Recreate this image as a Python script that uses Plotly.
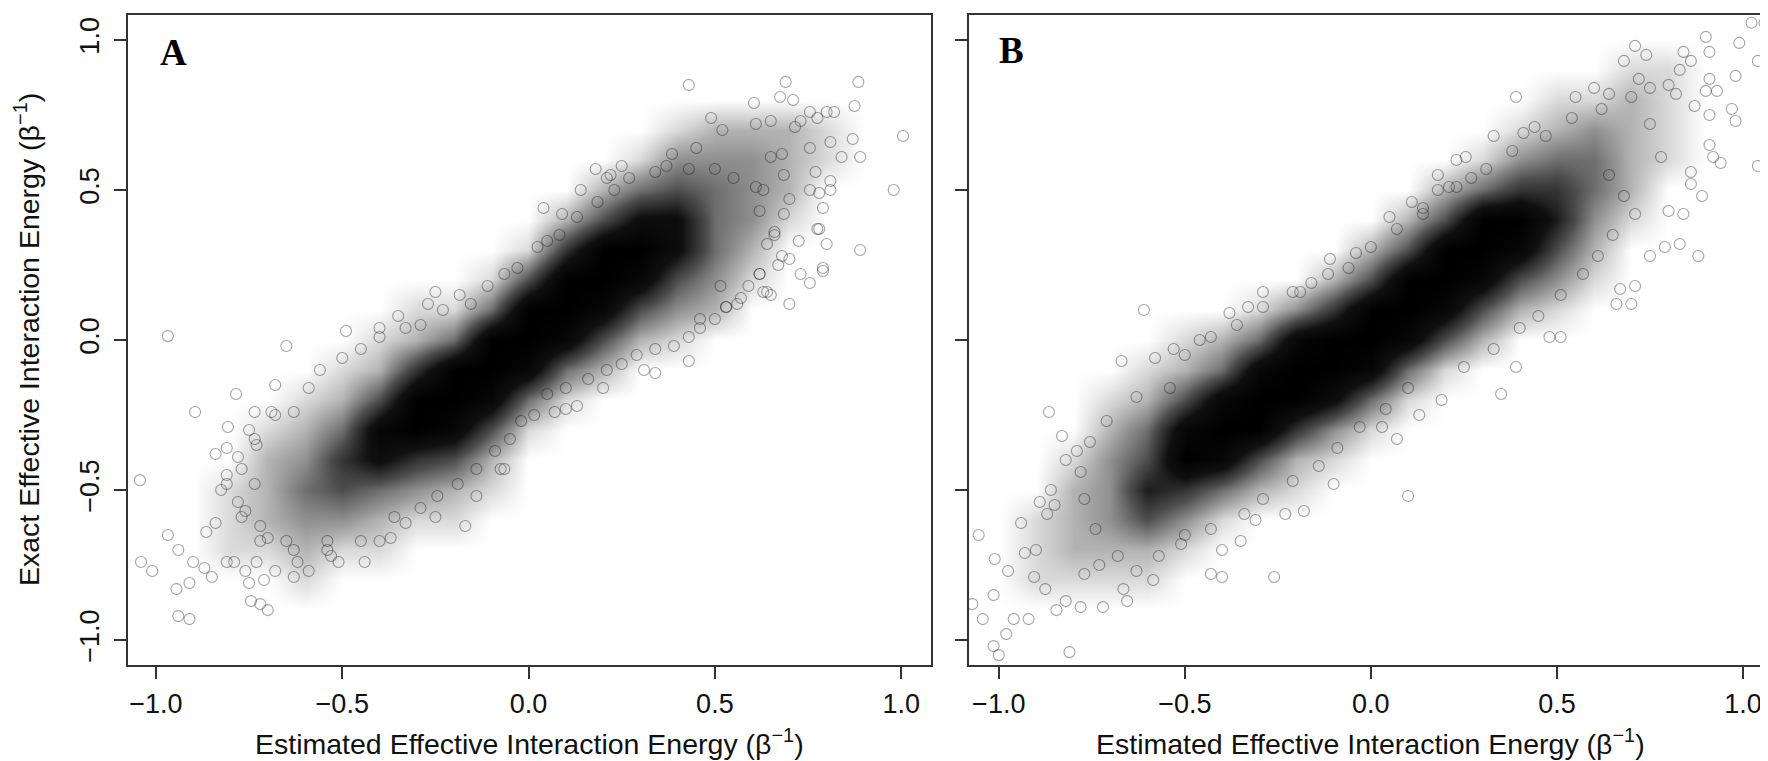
import plotly.graph_objects as go

# density grid (darkness 0-10), rows from y=0.9 down to y=-0.9
grid_x = [-0.9, -0.8, -0.7, -0.6, -0.5, -0.4, -0.3, -0.2, -0.1, 0.0,
          0.1, 0.2, 0.3, 0.4, 0.5, 0.6, 0.7, 0.8, 0.9]
grid_y = [0.9, 0.8, 0.7, 0.6, 0.5, 0.4, 0.3, 0.2, 0.1, 0.0,
          -0.1, -0.2, -0.3, -0.4, -0.5, -0.6, -0.7, -0.8, -0.9]

dens_a = [
    [0, 0, 0, 0, 0, 0, 0, 0, 0, 0, 0, 0, 0, 0, 0, 0, 0, 0, 0],
    [0, 0, 0, 0, 0, 0, 0, 0, 0, 0, 0, 0, 0, 0, 0, 0, 0, 0, 0],
    [0, 0, 0, 0, 0, 0, 0, 0, 0, 0, 0, 0, 0, 1, 2, 2, 2, 1, 0],
    [0, 0, 0, 0, 0, 0, 0, 0, 0, 0, 0, 0, 1, 3, 3, 3, 2, 1, 0],
    [0, 0, 0, 0, 0, 0, 0, 0, 0, 0, 0, 2, 4, 5, 4, 3, 2, 0, 0],
    [0, 0, 0, 0, 0, 0, 0, 0, 0, 0, 2, 5, 8, 8, 4, 3, 1, 0, 0],
    [0, 0, 0, 0, 0, 0, 0, 0, 0, 1, 6, 10, 10, 8, 4, 2, 0, 0, 0],
    [0, 0, 0, 0, 0, 0, 0, 0, 1, 5, 10, 10, 9, 5, 3, 1, 0, 0, 0],
    [0, 0, 0, 0, 0, 0, 1, 1, 4, 10, 10, 9, 5, 3, 2, 0, 0, 0, 0],
    [0, 0, 0, 0, 0, 1, 2, 4, 10, 10, 9, 5, 2, 1, 0, 0, 0, 0, 0],
    [0, 0, 0, 0, 1, 2, 6, 10, 10, 9, 4, 2, 0, 0, 0, 0, 0, 0, 0],
    [0, 0, 0, 1, 2, 5, 10, 10, 9, 4, 1, 0, 0, 0, 0, 0, 0, 0, 0],
    [0, 0, 1, 2, 4, 9, 10, 9, 5, 1, 0, 0, 0, 0, 0, 0, 0, 0, 0],
    [0, 0, 2, 3, 6, 8, 6, 5, 2, 0, 0, 0, 0, 0, 0, 0, 0, 0, 0],
    [0, 1, 2, 4, 5, 4, 3, 2, 1, 0, 0, 0, 0, 0, 0, 0, 0, 0, 0],
    [0, 1, 2, 3, 3, 2, 1, 1, 0, 0, 0, 0, 0, 0, 0, 0, 0, 0, 0],
    [0, 1, 1, 2, 1, 1, 0, 0, 0, 0, 0, 0, 0, 0, 0, 0, 0, 0, 0],
    [0, 0, 0, 1, 0, 0, 0, 0, 0, 0, 0, 0, 0, 0, 0, 0, 0, 0, 0],
    [0, 0, 0, 0, 0, 0, 0, 0, 0, 0, 0, 0, 0, 0, 0, 0, 0, 0, 0],
]

dens_b = [
    [0, 0, 0, 0, 0, 0, 0, 0, 0, 0, 0, 0, 0, 0, 0, 0, 1, 1, 0],
    [0, 0, 0, 0, 0, 0, 0, 0, 0, 0, 0, 0, 0, 0, 1, 1, 2, 1, 0],
    [0, 0, 0, 0, 0, 0, 0, 0, 0, 0, 0, 0, 0, 1, 2, 3, 2, 1, 0],
    [0, 0, 0, 0, 0, 0, 0, 0, 0, 0, 0, 0, 1, 3, 4, 4, 2, 1, 0],
    [0, 0, 0, 0, 0, 0, 0, 0, 0, 0, 0, 2, 4, 6, 6, 4, 2, 0, 0],
    [0, 0, 0, 0, 0, 0, 0, 0, 0, 0, 2, 5, 10, 10, 7, 3, 1, 0, 0],
    [0, 0, 0, 0, 0, 0, 0, 0, 0, 2, 5, 10, 10, 9, 5, 2, 0, 0, 0],
    [0, 0, 0, 0, 0, 0, 0, 0, 2, 5, 10, 10, 9, 5, 3, 1, 0, 0, 0],
    [0, 0, 0, 0, 0, 0, 1, 3, 6, 10, 10, 9, 5, 2, 1, 0, 0, 0, 0],
    [0, 0, 0, 0, 1, 2, 4, 9, 10, 10, 9, 5, 2, 0, 0, 0, 0, 0, 0],
    [0, 0, 0, 1, 2, 4, 9, 10, 10, 9, 4, 1, 0, 0, 0, 0, 0, 0, 0],
    [0, 0, 1, 2, 5, 9, 10, 10, 8, 4, 1, 0, 0, 0, 0, 0, 0, 0, 0],
    [0, 0, 2, 4, 9, 10, 10, 6, 3, 1, 0, 0, 0, 0, 0, 0, 0, 0, 0],
    [0, 1, 3, 5, 10, 9, 5, 2, 1, 0, 0, 0, 0, 0, 0, 0, 0, 0, 0],
    [0, 2, 3, 7, 6, 4, 2, 1, 0, 0, 0, 0, 0, 0, 0, 0, 0, 0, 0],
    [1, 2, 3, 5, 3, 1, 0, 0, 0, 0, 0, 0, 0, 0, 0, 0, 0, 0, 0],
    [1, 2, 2, 2, 1, 0, 0, 0, 0, 0, 0, 0, 0, 0, 0, 0, 0, 0, 0],
    [1, 1, 1, 1, 0, 0, 0, 0, 0, 0, 0, 0, 0, 0, 0, 0, 0, 0, 0],
    [0, 0, 0, 0, 0, 0, 0, 0, 0, 0, 0, 0, 0, 0, 0, 0, 0, 0, 0],
]

# isolated circles away from the dense core
pts_a_x = [-1.043, -0.895, -0.807, -0.84, -0.968, -1.04, -1.01, -0.94, -0.945, -0.91,
           -0.90, -0.94, -0.91, -0.865, -0.825, -0.81, -0.87, -0.85, -0.81, -0.745,
           -0.72, -0.70, -0.75, -0.76, -0.71, -0.68, -0.63, -0.59, -0.51, -0.44,
           -0.40, -0.37, -0.33, -0.25, -0.17, -0.14, -0.14, -0.075, -0.53, -0.54,
           -0.72, -0.65, -0.62, -0.79, -0.73, -0.735, -0.75, -0.68, -0.63, -0.73,
           -0.77, -0.78, -0.735, -0.77, -0.72, -0.84, -0.81, -0.968, -0.785, -0.68,
           -0.65, -0.49, -0.35, -0.25, -0.27, -0.23, -0.185, -0.40, -0.065, -0.02,
           -0.56, -0.59,
           0.43, 0.69, 0.885, 0.605, 0.675, 0.71, 0.875, 0.82, 0.80, 0.755,
           1.005, 0.87, 0.89, 0.84, 0.98, 0.89, 0.79, 0.755, 0.70, 0.73,
           0.80, 0.78, 0.725, 0.79, 0.81, 0.78, 0.755, 0.77, 0.81, 0.81,
           0.775, 0.65, 0.63, 0.43, 0.34, 0.31, 0.20, 0.13, 0.10, 0.07,
           0.015, 0.18, 0.25, 0.14, 0.04, 0.09, 0.21, 0.385, 0.49, 0.52,
           0.45, 0.755, 0.68, 0.685, 0.70, 0.685, 0.70, 0.67, 0.62, 0.59,
           0.56, 0.53, 0.46, 0.515, 0.64, 0.66, 0.63, 0.65, 0.61, 0.65,
           0.715, 0.73]
pts_a_y = [-0.467, -0.24, -0.29, -0.38, -0.65, -0.74, -0.77, -0.70, -0.83, -0.81,
           -0.74, -0.92, -0.93, -0.64, -0.50, -0.36, -0.76, -0.79, -0.74, -0.87,
           -0.88, -0.90, -0.81, -0.77, -0.80, -0.77, -0.79, -0.77, -0.74, -0.74,
           -0.67, -0.66, -0.61, -0.59, -0.62, -0.52, -0.43, -0.43, -0.72, -0.67,
           -0.67, -0.67, -0.74, -0.74, -0.74, -0.24, -0.30, -0.25, -0.24, -0.35,
           -0.43, -0.54, -0.48, -0.59, -0.62, -0.61, -0.45, 0.013, -0.18, -0.15,
           -0.02, 0.03, 0.08, 0.16, 0.12, 0.10, 0.15, 0.04, -0.43, -0.27,
           -0.10, -0.16,
           0.85, 0.86, 0.86, 0.79, 0.81, 0.80, 0.78, 0.76, 0.76, 0.76,
           0.68, 0.67, 0.61, 0.61, 0.50, 0.30, 0.23, 0.19, 0.12, 0.22,
           0.32, 0.37, 0.33, 0.44, 0.50, 0.49, 0.50, 0.56, 0.53, 0.66,
           0.74, 0.15, 0.16, -0.07, -0.11, -0.10, -0.16, -0.22, -0.23, -0.24,
           -0.25, 0.57, 0.58, 0.50, 0.44, 0.42, 0.54, 0.62, 0.74, 0.70,
           0.64, 0.64, 0.62, 0.55, 0.47, 0.42, 0.27, 0.25, 0.22, 0.18,
           0.12, 0.11, 0.07, 0.18, 0.32, 0.36, 0.50, 0.61, 0.72, 0.73,
           0.71, 0.73]

# circles on the fringe of the dense band
fringe_a_x = [0.22, 0.024, 0.05, 0.083, 0.13, 0.185, 0.23, 0.27, 0.34, 0.37,
              0.43, 0.50, 0.55, 0.61, 0.62, 0.66, 0.68, 0.62, 0.64, 0.775,
              0.79, 0.57, 0.53, 0.50, 0.46, 0.43, 0.39, 0.34, 0.29, 0.25,
              0.21, 0.16, 0.10, 0.05,
              -0.50, -0.45, -0.40, -0.33, -0.29, -0.155, -0.11, -0.065, -0.03,
              -0.69, -0.735, -0.78, -0.81, -0.76, -0.70, -0.63, -0.54, -0.45, -0.36,
              -0.29, -0.245, -0.19, -0.09, -0.05]
fringe_a_y = [0.55, 0.31, 0.33, 0.35, 0.41, 0.46, 0.50, 0.54, 0.56, 0.58,
              0.57, 0.57, 0.54, 0.51, 0.43, 0.35, 0.28, 0.22, 0.16, 0.37,
              0.24, 0.14, 0.11, 0.07, 0.04, 0.01, -0.02, -0.03, -0.05, -0.08,
              -0.10, -0.13, -0.16, -0.18,
              -0.06, -0.03, 0.01, 0.04, 0.05, 0.12, 0.18, 0.22, 0.24,
              -0.24, -0.33, -0.39, -0.48, -0.57, -0.66, -0.70, -0.70, -0.67, -0.59,
              -0.56, -0.52, -0.48, -0.37, -0.33]

pts_b_x = [1.023, 1.058, 0.90, 0.99, 0.71, 0.74, 0.68, 0.84, 0.86, 0.91,
           1.04, 0.83, 0.98, 0.91, 0.72, 0.60, 0.55, 0.39, 0.64, 0.75,
           0.80, 0.82, 0.90, 0.93, 0.97, 0.98, 0.87, 0.91, 1.04, 0.94,
           0.92, 0.91, 0.86, 0.89, 0.86, 0.84, 0.80, 0.83, 0.88, 0.79,
           0.75, 0.71, 0.67, 0.66, 0.70, 0.48, 0.51, 0.39, 0.33, 0.41,
           0.44, 0.23, 0.255, 0.18, 0.21, 0.18, 0.27, 0.11, 0.05, 0.14,
           -0.04, -0.11, -0.06, -0.16, -0.19, -0.29, -0.33, -0.38, -0.61, -0.67,
           -0.58, -0.53, -0.46,
           -0.865, -0.83, -0.79, -0.82, -0.86, -0.89, -0.85, -0.94, -1.054, -0.87,
           -0.90, -0.93, -1.011, -0.975, -0.905, -0.875, -1.014, -1.071, -1.043, -0.96,
           -0.92, -0.845, -0.82, -0.78, -0.72, -0.655, -0.665, -0.81, -1.014, -1.0,
           -0.98, -0.585, -0.43, -0.40, -0.26, 0.10, -0.18, -0.10, 0.07, 0.13,
           0.19, 0.35, 0.03, -0.35, -0.40, -0.51, -0.57, -0.63, -0.73, -0.77,
           -0.23, -0.31]
pts_b_y = [1.057, 1.057, 1.01, 0.99, 0.98, 0.95, 0.93, 0.96, 0.93, 0.96,
           0.93, 0.90, 0.88, 0.87, 0.87, 0.84, 0.81, 0.81, 0.82, 0.84,
           0.85, 0.82, 0.83, 0.83, 0.77, 0.73, 0.78, 0.75, 0.58, 0.59,
           0.61, 0.65, 0.56, 0.48, 0.52, 0.42, 0.43, 0.32, 0.28, 0.31,
           0.28, 0.18, 0.17, 0.12, 0.12, 0.01, 0.01, -0.09, 0.68, 0.69,
           0.71, 0.60, 0.61, 0.55, 0.51, 0.50, 0.54, 0.46, 0.41, 0.42,
           0.29, 0.27, 0.24, 0.19, 0.16, 0.16, 0.11, 0.09, 0.10, -0.07,
           -0.06, -0.03, 0.0,
           -0.24, -0.32, -0.37, -0.40, -0.50, -0.54, -0.55, -0.61, -0.65, -0.58,
           -0.70, -0.71, -0.73, -0.77, -0.79, -0.83, -0.85, -0.88, -0.93, -0.93,
           -0.93, -0.90, -0.87, -0.89, -0.89, -0.87, -0.83, -1.04, -1.02, -1.05,
           -0.98, -0.80, -0.78, -0.79, -0.79, -0.52, -0.57, -0.48, -0.33, -0.25,
           -0.20, -0.18, -0.29, -0.67, -0.70, -0.68, -0.72, -0.77, -0.75, -0.78,
           -0.58, -0.60]

fringe_b_x = [-0.115, -0.21, -0.29, -0.36, -0.43, -0.50, 0.0, 0.07, 0.14, 0.23,
              0.31, 0.38, 0.47, 0.54, 0.62, 0.70,
              0.64, 0.68, 0.71, 0.65, 0.61, 0.57, 0.51, 0.45, 0.40, 0.33,
              0.25, 0.78, 0.75,
              0.10, 0.04, -0.03, -0.09, -0.14, -0.21, -0.29, -0.34, -0.43, -0.50,
              -0.71, -0.755, -0.78, -0.77, -0.74, -0.68, -0.63, -0.54]
fringe_b_y = [0.22, 0.16, 0.11, 0.05, 0.01, -0.05, 0.31, 0.37, 0.44, 0.51,
              0.57, 0.63, 0.68, 0.74, 0.77, 0.81,
              0.55, 0.48, 0.42, 0.35, 0.28, 0.22, 0.15, 0.08, 0.04, -0.03,
              -0.09, 0.61, 0.72,
              -0.16, -0.23, -0.29, -0.36, -0.42, -0.47, -0.53, -0.58, -0.63, -0.65,
              -0.27, -0.34, -0.44, -0.53, -0.63, -0.72, -0.19, -0.16]

tick_vals = [-1.0, -0.5, 0.0, 0.5, 1.0]
tick_text = ["\u22121.0", "\u22120.5", "0.0", "0.5", "1.0"]
x_title = "Estimated Effective Interaction Energy (\u03b2<sup>\u22121</sup>)"
y_title = "Exact Effective Interaction Energy (\u03b2<sup>\u22121</sup>)"

W, H = 1768, 761
shade = [[0, "rgba(0,0,0,0)"], [0.1, "rgba(0,0,0,0.15)"], [0.2, "rgba(0,0,0,0.3)"],
         [0.3, "rgba(0,0,0,0.44)"], [0.5, "rgba(0,0,0,0.7)"],
         [0.75, "rgba(0,0,0,0.94)"], [1, "rgba(0,0,0,1)"]]


def padded(rows):
    # an empty ring of cells so the smoothed image fades out instead of being cut
    width = len(rows[0]) + 2
    return [[0] * width] + [[0] + r + [0] for r in rows] + [[0] * width]


gx = [grid_x[0] - 0.1] + grid_x + [grid_x[-1] + 0.1]
gy = [grid_y[0] + 0.1] + grid_y + [grid_y[-1] - 0.1]

circle = dict(symbol="circle-open", size=11, color="rgba(0,0,0,0.36)",
              line=dict(width=1.1, color="rgba(0,0,0,0.36)"))

fig = go.Figure()
for dens, px, py, fx, fy, xa, ya in [
        (dens_a, pts_a_x, pts_a_y, fringe_a_x, fringe_a_y, "x", "y"),
        (dens_b, pts_b_x, pts_b_y, fringe_b_x, fringe_b_y, "x2", "y2")]:
    fig.add_trace(go.Heatmap(
        x=gx, y=gy[::-1], z=padded(dens)[::-1], zmin=0, zmax=10,
        colorscale=shade, zsmooth="best", showscale=False, hoverinfo="skip",
        xaxis=xa, yaxis=ya,
    ))
    fig.add_trace(go.Scatter(x=fx + px, y=fy + py, mode="markers",
                             xaxis=xa, yaxis=ya, marker=circle, showlegend=False))

tick_font = dict(family="Liberation Sans, Arial, sans-serif", size=27, color="#111")
common = dict(showline=True, mirror=True, linecolor="#333", linewidth=1.5,
              ticks="outside", ticklen=12, tickwidth=1.5, tickcolor="#333",
              tickvals=tick_vals, ticktext=tick_text, tickfont=tick_font,
              showgrid=False, zeroline=False)

fig.update_layout(
    width=W, height=H,
    margin=dict(l=0, r=0, t=0, b=0),
    paper_bgcolor="white", plot_bgcolor="white",
    showlegend=False,
    xaxis=dict(domain=[120 / W, 923 / W], range=[-1.075, 1.08], anchor="y",
               ticklabelstandoff=2, **common),
    yaxis=dict(domain=[104 / H, 754 / H], range=[-1.083, 1.083], anchor="x",
               tickangle=-90, ticklabelstandoff=4, **common),
    xaxis2=dict(domain=[961 / W, 1764 / W], range=[-1.08, 1.078], anchor="y2",
                ticklabelstandoff=2, **common),
    yaxis2=dict(domain=[104 / H, 754 / H], range=[-1.083, 1.083], anchor="x2",
                showticklabels=False, **common),
)

title_font = dict(family="Liberation Sans, Arial, sans-serif", size=28.5, color="#111")
letter_font = dict(family="Liberation Serif, Times New Roman, serif", size=37, color="black")
centred = dict(xref="paper", yref="paper", xanchor="center", yanchor="middle", showarrow=False)
fig.add_annotation(x=521.5 / W, y=(H - 734) / H, text=x_title, font=title_font, **centred)
fig.add_annotation(x=1362.5 / W, y=(H - 734) / H, text=x_title, font=title_font, **centred)
fig.add_annotation(x=19 / W, y=(H - 332) / H, text=y_title, textangle=-90,
                   font=title_font, **centred)
fig.add_annotation(x=165 / W, y=(H - 45) / H, text="<b>A</b>", font=letter_font, **centred)
fig.add_annotation(x=1003 / W, y=(H - 42) / H, text="<b>B</b>", font=letter_font, **centred)

fig.write_html("out.html")
